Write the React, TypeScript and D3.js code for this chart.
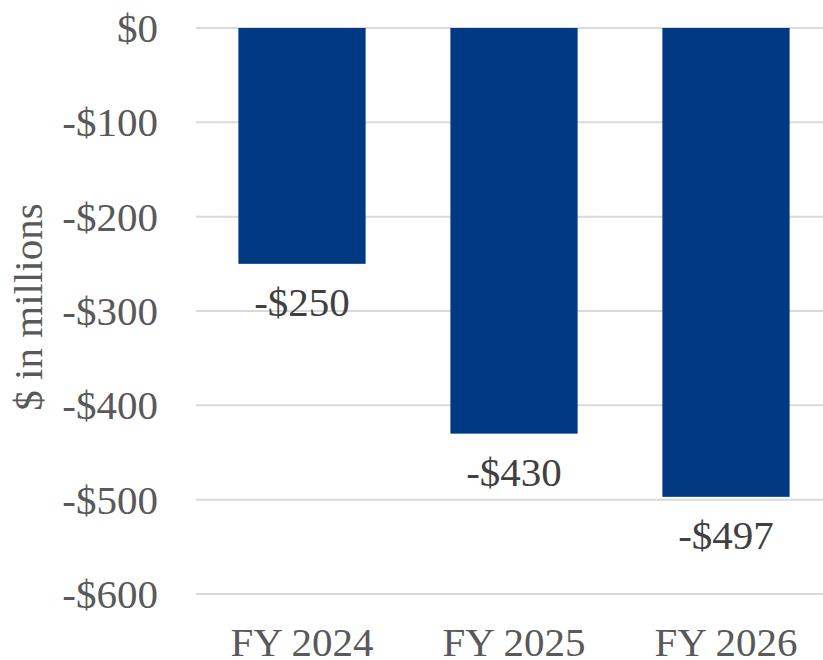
import React from "react";
import * as d3 from "d3";

const categories = ["FY 2024", "FY 2025", "FY 2026"];
const values = [-250, -430, -497];
const yTicks = [0, -100, -200, -300, -400, -500, -600];

const W = 823;
const H = 660;
const FONT = "'Liberation Serif', 'Times New Roman', serif";
const TEXT = "#595959";

export default function App() {
  const x = d3
    .scaleBand<string>()
    .domain(categories)
    .range([196, 832])
    .paddingInner(0.4)
    .paddingOuter(0.2);
  const y = d3.scaleLinear().domain([-600, 0]).range([594, 28]);
  const fmt = (v: number) => (v < 0 ? "-$" + Math.abs(v) : "$" + v);

  return (
    <svg
      width={W}
      height={H}
      style={{ position: "absolute", left: 0, top: 0, background: "#fff" }}
      fontFamily={FONT}
    >
      {yTicks.map((t) => (
        <g key={t}>
          <line x1={196} x2={W} y1={y(t)} y2={y(t)} stroke="#d9d9d9" strokeWidth={2} />
          <text x={158} y={y(t)} dy="0.34em" textAnchor="end" fontSize={41} fill={TEXT}>
            {fmt(t)}
          </text>
        </g>
      ))}
      {categories.map((c, i) => (
        <g key={c}>
          <rect
            x={x(c)!}
            y={y(0)}
            width={x.bandwidth()}
            height={y(values[i]) - y(0)}
            fill="#003882"
          />
          <text
            x={x(c)! + x.bandwidth() / 2}
            y={y(values[i]) + 52}
            textAnchor="middle"
            fontSize={41}
            fill="#404040"
          >
            {fmt(values[i])}
          </text>
          <text
            x={x(c)! + x.bandwidth() / 2}
            y={656}
            textAnchor="middle"
            fontSize={41}
            fill={TEXT}
          >
            {c}
          </text>
        </g>
      ))}
      <text
        transform={`translate(42,307) rotate(-90)`}
        textAnchor="middle"
        fontSize={41}
        fill={TEXT}
      >
        $ in millions
      </text>
    </svg>
  );
}
